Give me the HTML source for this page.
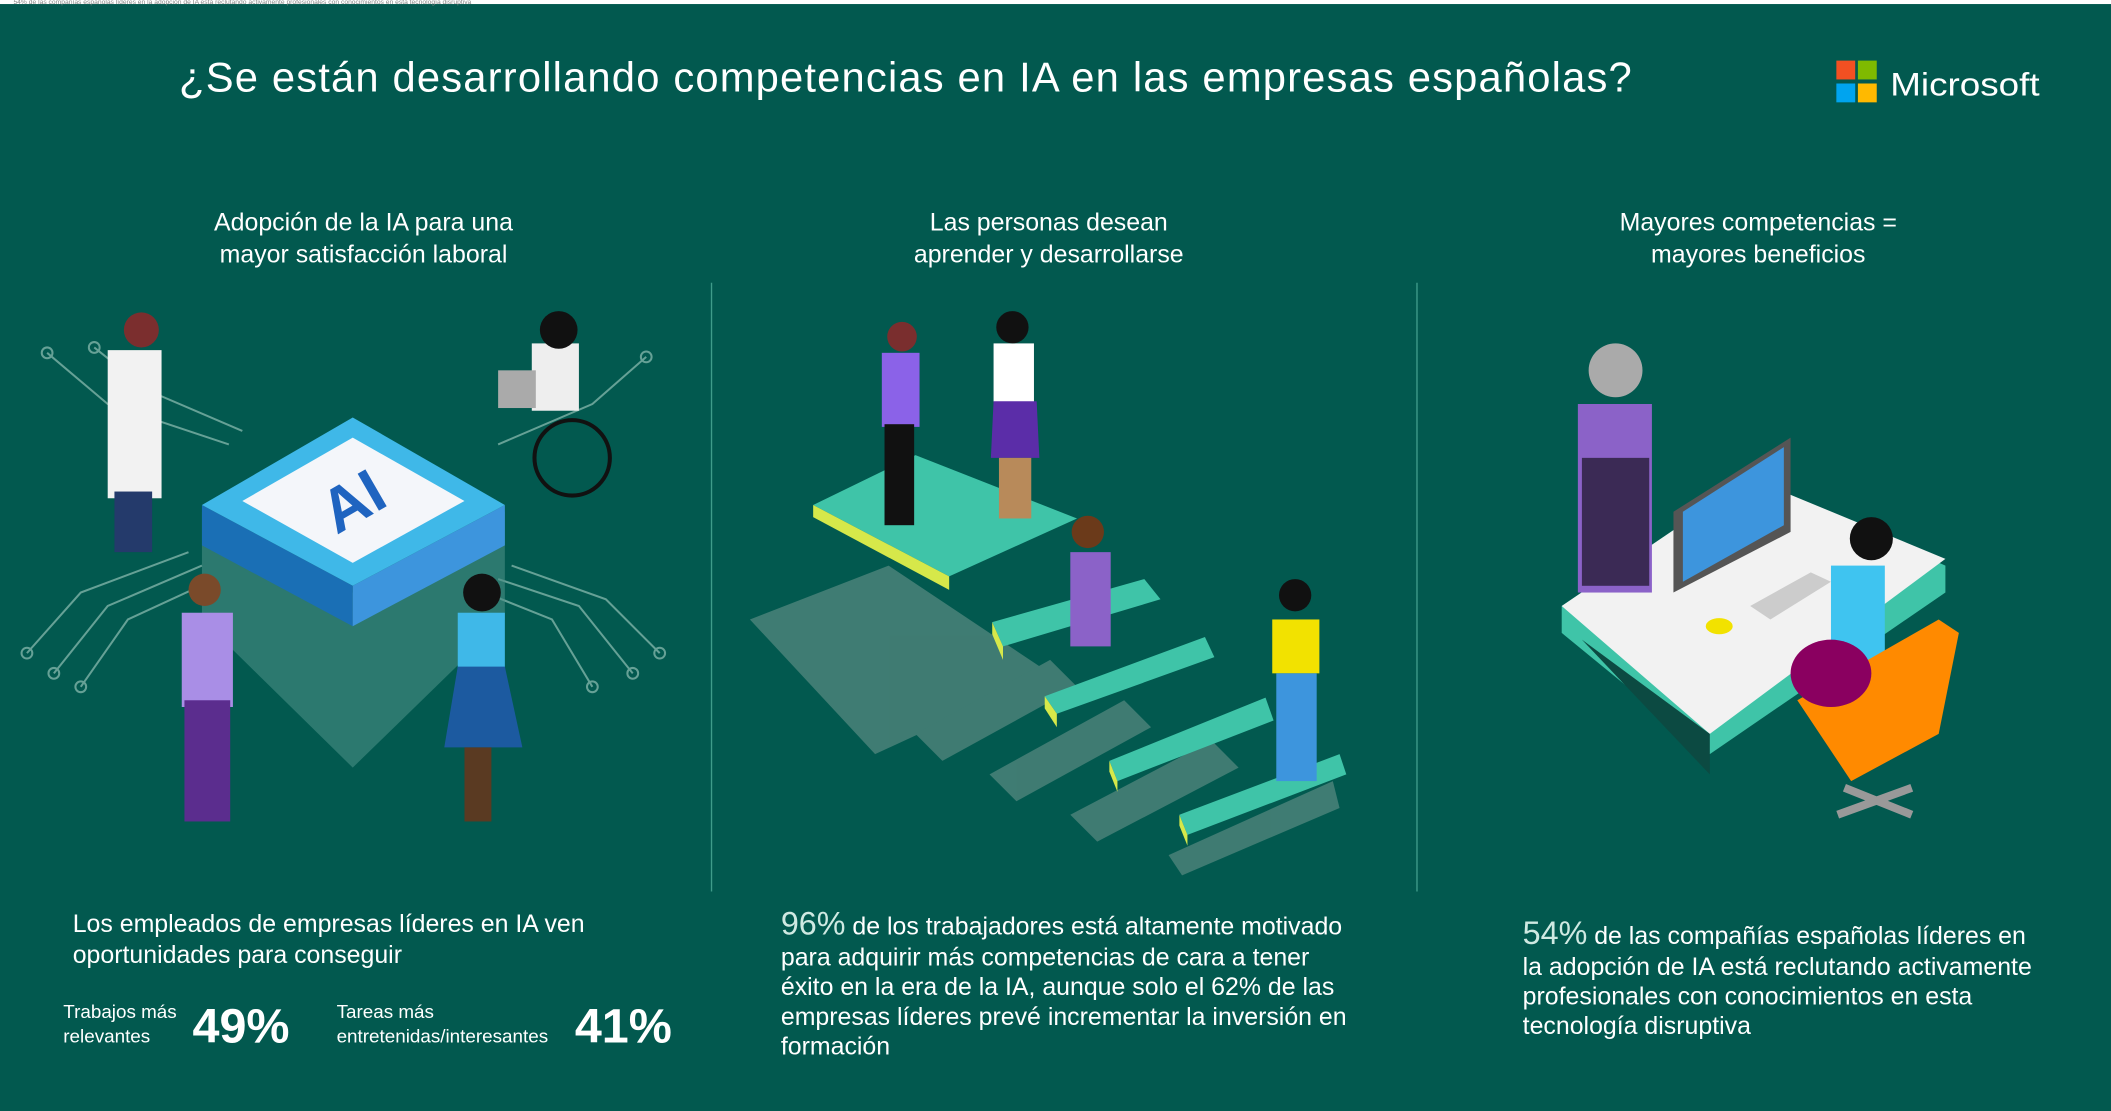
<!DOCTYPE html>
<html><head><meta charset="utf-8"><style>
html,body{margin:0;padding:0;background:#02594f;width:2111px;height:1111px;overflow:hidden}
svg{display:block}
text{font-family:"Liberation Sans",sans-serif;fill:#fff}
</style></head><body>
<svg width="2111" height="1111" viewBox="0 0 1568 825" preserveAspectRatio="none">
<rect width="1568" height="825" fill="#02594f"/>
<rect width="1568" height="3" fill="#fff"/>
<text x="10" y="3" font-size="5" style="fill:#888">54% de las compañías españolas líderes en la adopción de IA está reclutando activamente profesionales con conocimientos en esta tecnología disruptiva</text>
<text x="133" y="68" font-size="31" textLength="1079" lengthAdjust="spacing">¿Se están desarrollando competencias en IA en las empresas españolas?</text>
<rect x="1364" y="45" width="14" height="14" fill="#f25022"/><rect x="1380" y="45" width="14" height="14" fill="#7fba00"/>
<rect x="1364" y="62" width="14" height="14" fill="#00a4ef"/><rect x="1380" y="62" width="14" height="14" fill="#ffb900"/>
<text x="1404" y="71" font-size="24" textLength="111" lengthAdjust="spacingAndGlyphs">Microsoft</text>
<g font-size="18.5" text-anchor="middle">
<text x="270" y="171">Adopción de la IA para una</text><text x="270" y="195">mayor satisfacción laboral</text>
<text x="779" y="171">Las personas desean</text><text x="779" y="195">aprender y desarrollarse</text>
<text x="1306" y="171">Mayores competencias =</text><text x="1306" y="195">mayores beneficios</text>
</g>
<line x1="528.5" y1="210" x2="528.5" y2="662" stroke="#3f9c8a"/>
<line x1="1052.5" y1="210" x2="1052.5" y2="662" stroke="#3f9c8a"/>
<g stroke="#7fb3a8" stroke-width="1.5" fill="none" opacity="0.8">
<path d="M35 262 L80 300 L170 330 M70 258 L110 290 L180 320 M20 485 L60 440 L140 410 M40 500 L80 450 L150 420 M60 510 L95 460 L160 430 M480 265 L440 300 L370 330 M490 485 L450 445 L380 420 M470 500 L430 450 L370 430 M440 510 L410 460 L360 440"/>
<circle cx="35" cy="262" r="4"/><circle cx="70" cy="258" r="4"/><circle cx="20" cy="485" r="4"/><circle cx="40" cy="500" r="4"/><circle cx="60" cy="510" r="4"/><circle cx="480" cy="265" r="4"/><circle cx="490" cy="485" r="4"/><circle cx="470" cy="500" r="4"/><circle cx="440" cy="510" r="4"/>
</g>
<polygon points="150,380 262,440 375,380 375,460 262,570 150,460" fill="#4a8f86" opacity="0.6"/>
<polygon points="150,375 262,435 262,465 150,405" fill="#1a6fb5"/>
<polygon points="262,435 375,375 375,405 262,465" fill="#3d95dd"/>
<polygon points="150,375 262,310 375,375 262,435" fill="#3fb8e8"/>
<polygon points="180,372 262,325 345,372 262,418" fill="#f4f6fa"/>
<text x="262" y="388" font-size="46" font-weight="bold" text-anchor="middle" style="fill:#1f64c0" transform="rotate(-30 262 372)">AI</text>
<rect x="80" y="260" width="40" height="110" fill="#f2f2f2"/><circle cx="105" cy="245" r="13" fill="#7b2e2e"/><rect x="85" y="365" width="28" height="45" fill="#243a6b"/>
<rect x="135" y="455" width="38" height="70" fill="#a98ee6"/><circle cx="152" cy="438" r="12" fill="#7a4a2a"/><rect x="137" y="520" width="34" height="90" fill="#5b2d8e"/>
<rect x="340" y="455" width="35" height="45" fill="#3fb8e8"/><circle cx="358" cy="440" r="14" fill="#111"/><polygon points="340,495 375,495 388,555 330,555" fill="#1c5aa0"/><rect x="345" y="555" width="20" height="55" fill="#5a3a22"/>
<rect x="395" y="255" width="35" height="50" fill="#eee"/><circle cx="415" cy="245" r="14" fill="#111"/><circle cx="425" cy="340" r="28" fill="none" stroke="#111" stroke-width="3"/><rect x="370" y="275" width="28" height="28" fill="#aaa"/>
<g fill="#4a8279" opacity="0.85">
<polygon points="557,460 660,420 780,500 650,560"/><polygon points="680,545 780,490 800,510 700,565"/><polygon points="735,575 835,520 855,540 755,595"/><polygon points="795,605 900,550 920,570 815,625"/><polygon points="868,635 990,580 995,600 878,650"/>
</g>
<g fill="#3fc4a8">
<polygon points="604,375 680,338 800,385 705,428"/><polygon points="737,462 850,430 862,445 745,480"/><polygon points="776,517 895,473 902,488 785,530"/><polygon points="824,565 940,518 946,535 830,580"/><polygon points="876,605 995,560 1000,575 882,620"/>
</g>
<g fill="#d6e84a"><polygon points="604,375 705,428 705,438 604,384"/><polygon points="737,462 745,480 745,490 737,471"/><polygon points="776,517 785,530 785,540 776,526"/><polygon points="824,565 830,580 830,588 824,573"/><polygon points="876,605 882,620 882,628 876,613"/></g>
<rect x="655" y="262" width="28" height="55" fill="#8b62e8"/><circle cx="670" cy="250" r="11" fill="#7a2e2e"/><rect x="657" y="315" width="22" height="75" fill="#111"/>
<rect x="738" y="255" width="30" height="45" fill="#fff"/><circle cx="752" cy="243" r="12" fill="#111"/><polygon points="738,298 770,298 772,340 736,340" fill="#5b2da8"/><rect x="742" y="340" width="24" height="45" fill="#b88a5a"/>
<rect x="795" y="410" width="30" height="70" fill="#8b62c8"/><circle cx="808" cy="395" r="12" fill="#6b3a1a"/>
<rect x="945" y="460" width="35" height="40" fill="#f2e200"/><circle cx="962" cy="442" r="12" fill="#111"/><rect x="948" y="500" width="30" height="80" fill="#3d95dd"/>
<polygon points="1160,450 1300,355 1445,420 1445,440 1270,560 1160,470" fill="#3fc4a8"/>
<polygon points="1160,450 1300,355 1445,415 1270,545" fill="#f2f2f2"/>
<polygon points="1175,475 1270,545 1270,575" fill="#0c4a42"/>
<polygon points="1243,380 1330,325 1330,395 1243,440" fill="#555"/>
<polygon points="1250,380 1325,332 1325,390 1250,432" fill="#3d95dd"/>
<polygon points="1300,450 1345,425 1360,432 1315,460" fill="#ccc"/>
<ellipse cx="1277" cy="465" rx="10" ry="6" fill="#f2e200"/>
<rect x="1172" y="300" width="55" height="140" fill="#8b62c8"/><rect x="1175" y="340" width="50" height="95" fill="#3b2a55"/><circle cx="1200" cy="275" r="20" fill="#aaa"/>
<rect x="1360" y="420" width="40" height="80" fill="#3fc4f0"/><circle cx="1390" cy="400" r="16" fill="#111"/>
<polygon points="1335,520 1440,460 1455,470 1440,545 1375,580" fill="#ff8a00"/>
<ellipse cx="1360" cy="500" rx="30" ry="25" fill="#8a0060"/>
<path d="M1365 605 L1420 585 M1370 585 L1420 605" stroke="#999" stroke-width="6"/>
<g font-size="18.5">
<text x="54" y="692">Los empleados de empresas líderes en IA ven</text>
<text x="54" y="715">oportunidades para conseguir</text>
</g>
<g font-size="14">
<text x="47" y="756">Trabajos más</text><text x="47" y="774">relevantes</text>
<text x="250" y="756">Tareas más</text><text x="250" y="774">entretenidas/interesantes</text>
</g>
<text x="143" y="774" font-size="36" font-weight="bold">49%</text>
<text x="427" y="774" font-size="36" font-weight="bold">41%</text>
<g font-size="18.5">
<text x="580" y="694"><tspan font-size="24" style="fill:#cfe9e2">96%</tspan> de los trabajadores está altamente motivado</text>
<text x="580" y="717">para adquirir más competencias de cara a tener</text>
<text x="580" y="739">éxito en la era de la IA, aunque solo el 62% de las</text>
<text x="580" y="761">empresas líderes prevé incrementar la inversión en</text>
<text x="580" y="783">formación</text>
<text x="1131" y="701"><tspan font-size="24" style="fill:#cfe9e2">54%</tspan> de las compañías españolas líderes en</text>
<text x="1131" y="724">la adopción de IA está reclutando activamente</text>
<text x="1131" y="746">profesionales con conocimientos en esta</text>
<text x="1131" y="768">tecnología disruptiva</text>
</g>
</svg>
</body></html>
